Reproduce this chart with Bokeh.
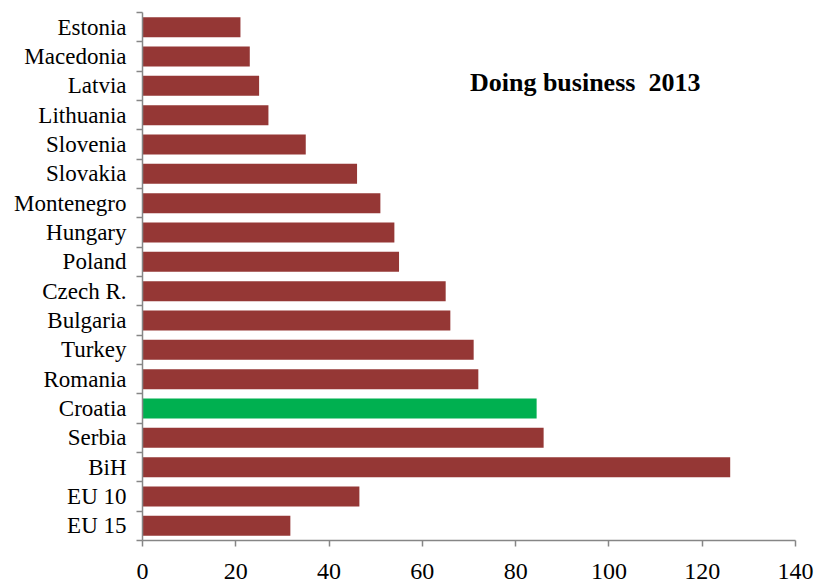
from bokeh.plotting import figure
from bokeh.models import FixedTicker, Range1d, Label
from bokeh.embed import file_html
from bokeh.resources import INLINE

# Data (top to bottom as shown)
countries = ["Estonia", "Macedonia", "Latvia", "Lithuania", "Slovenia", "Slovakia",
             "Montenegro", "Hungary", "Poland", "Czech R.", "Bulgaria", "Turkey",
             "Romania", "Croatia", "Serbia", "BiH", "EU 10", "EU 15"]
values = [21, 23, 25, 27, 35, 46, 51, 54, 55, 65, 66, 71, 72, 84.5, 86, 126, 46.5, 31.7]
highlight = "Croatia"
x_ticks = [0, 20, 40, 60, 80, 100, 120, 140]
title_text = "Doing business\u00a0 2013"

RED = "#953735"
GREEN = "#00B050"
AXIS = "#868686"
FONT = "Liberation Serif"

n = len(countries)
ypos = [n - 1 - i for i in range(n)]
colors = [GREEN if c == highlight else RED for c in countries]

p = figure(width=818, height=587, output_backend="svg", toolbar_location=None,
           x_range=Range1d(0, 140), y_range=Range1d(-0.5, n - 0.5),
           min_border_left=142, min_border_right=23, min_border_top=12, min_border_bottom=47)
p.outline_line_color = None
p.xgrid.grid_line_color = None
p.ygrid.grid_line_color = None
p.background_fill_color = "white"
p.border_fill_color = "white"

p.hbar(y=ypos, right=values, left=0, height=0.68, fill_color=colors, line_color=None)

# x axis
xa = p.xaxis[0]
xa.ticker = FixedTicker(ticks=x_ticks)
xa.axis_line_color = AXIS
xa.axis_line_width = 1.5
xa.major_tick_line_color = AXIS
xa.major_tick_line_width = 1.5
xa.major_tick_in = 0
xa.major_tick_out = 6
xa.minor_tick_line_color = None
xa.major_label_text_font = FONT
xa.major_label_text_font_size = "24px"
xa.major_label_text_color = "black"
xa.major_label_standoff = 17

# y axis: labels at centers, ticks at boundaries (minor)
ya = p.yaxis[0]
boundaries = [k - 0.5 for k in range(n + 1)]
ya.ticker = FixedTicker(ticks=ypos, minor_ticks=boundaries)
ya.major_label_overrides = {y: c for y, c in zip(ypos, countries)}
ya.axis_line_color = AXIS
ya.axis_line_width = 1.5
ya.major_tick_line_color = None
ya.major_tick_in = 0
ya.major_tick_out = 0
ya.minor_tick_line_color = AXIS
ya.minor_tick_line_width = 1.5
ya.minor_tick_in = 0
ya.minor_tick_out = 6
ya.major_label_text_font = FONT
ya.major_label_text_font_size = "23px"
ya.major_label_text_color = "black"
ya.major_label_standoff = 10

title = Label(x=70.2, y=15.1, text=title_text, text_font=FONT, text_font_size="26px",
              text_font_style="bold", text_baseline="middle", text_align="left",
              text_color="black")
p.add_layout(title)

open("out.html", "w").write(file_html(p, INLINE))
